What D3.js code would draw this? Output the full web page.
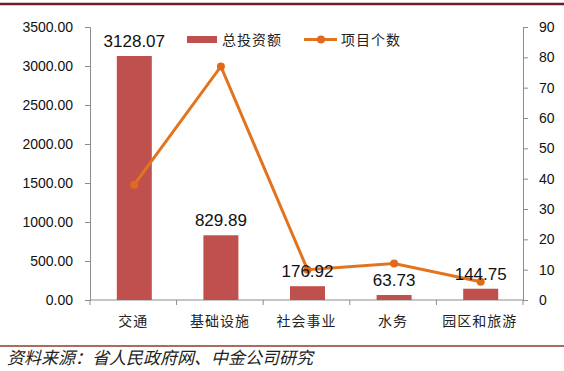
<!DOCTYPE html>
<html>
<head>
<meta charset="utf-8">
<script src="https://cdn.jsdelivr.net/npm/d3@7"></script>
<style>
body { margin: 0; background: #fff; }
text { font-family: "Liberation Sans", Arial, sans-serif; }
.cjk { font-family: "Noto Sans CJK SC", sans-serif; }
</style>
</head>
<body>
<div id="chart"></div>
<script>
// categories and series
var categories = ["交通", "基础设施", "社会事业", "水务", "园区和旅游"];
var investment = [3128.07, 829.89, 176.92, 63.73, 144.75];
var projectCount = [38, 77, 10, 12, 6];
var leftTicks = [0, 500, 1000, 1500, 2000, 2500, 3000, 3500];
var rightTicks = [0, 10, 20, 30, 40, 50, 60, 70, 80, 90];

var width = 564, height = 371;
var plotLeft = 90, plotRight = 523, plotTop = 27, plotBottom = 300;
var barColor = "#c0504d";
var lineColor = "#e3741f";
var axisColor = "#8c8c8c";

var svg = d3.select("#chart").append("svg")
  .attr("width", width)
  .attr("height", height);

// frame lines top and bottom
svg.append("line").attr("x1", 0).attr("x2", width).attr("y1", 4).attr("y2", 4)
  .attr("stroke", "#701c28").attr("stroke-width", 2.5);
svg.append("line").attr("x1", 0).attr("x2", width).attr("y1", 346).attr("y2", 346)
  .attr("stroke", "#8e3b2a").attr("stroke-width", 1.5);

var x = d3.scaleBand().domain(categories).range([plotLeft, plotRight]);
var yL = d3.scaleLinear().domain([0, 3500]).range([plotBottom, plotTop]);
var yR = d3.scaleLinear().domain([0, 90]).range([plotBottom, plotTop]);

// left axis
var gL = svg.append("g").attr("transform", "translate(" + plotLeft + ",0)")
  .call(d3.axisLeft(yL).tickValues(leftTicks).tickFormat(d3.format(".2f")).tickSizeOuter(0).tickSize(5).tickPadding(12));
// right axis
var gR = svg.append("g").attr("transform", "translate(" + plotRight + ",0)")
  .call(d3.axisRight(yR).tickValues(rightTicks).tickSizeOuter(0).tickSize(5).tickPadding(11));
[gL, gR].forEach(function(g) {
  g.select(".domain").attr("stroke", axisColor);
  g.selectAll(".tick line").attr("stroke", axisColor);
  g.selectAll(".tick text").attr("fill", "#111").style("font-size", "14px")
    .style("font-family", "'Liberation Sans', Arial, sans-serif");
});

// bottom axis, ticks on category boundaries
svg.append("line").attr("x1", plotLeft).attr("x2", plotRight).attr("y1", plotBottom).attr("y2", plotBottom)
  .attr("stroke", axisColor);
var bounds = categories.map(function(c) { return x(c); }).concat([plotRight]);
svg.selectAll(".btick").data(bounds).enter().append("line")
  .attr("x1", function(d) { return d; }).attr("x2", function(d) { return d; })
  .attr("y1", plotBottom).attr("y2", plotBottom + 5).attr("stroke", axisColor);
svg.selectAll(".xlab").data(categories).enter().append("text")
  .attr("class", "cjk")
  .attr("x", function(d) { return x(d) + x.bandwidth() / 2; })
  .attr("y", 326)
  .attr("text-anchor", "middle")
  .style("font-size", "14px")
  .style("letter-spacing", "1px")
  .attr("fill", "#222")
  .text(function(d) { return d; });

// bars
var barW = 35;
svg.selectAll(".bar").data(investment).enter().append("rect")
  .attr("x", function(d, i) { return x(categories[i]) + x.bandwidth() / 2 - barW / 2 + 1; })
  .attr("y", function(d) { return yL(d); })
  .attr("width", barW)
  .attr("height", function(d) { return plotBottom - yL(d); })
  .attr("fill", barColor);

// line series
var line = d3.line()
  .x(function(d, i) { return x(categories[i]) + x.bandwidth() / 2 + 1; })
  .y(function(d) { return yR(d); });
svg.append("path").datum(projectCount)
  .attr("d", line)
  .attr("fill", "none")
  .attr("stroke", lineColor)
  .attr("stroke-width", 3);
svg.selectAll(".dot").data(projectCount).enter().append("circle")
  .attr("cx", function(d, i) { return x(categories[i]) + x.bandwidth() / 2 + 1; })
  .attr("cy", function(d) { return yR(d); })
  .attr("r", 4)
  .attr("fill", "#e06a1c");

// value labels above bars
svg.selectAll(".val").data(investment).enter().append("text")
  .attr("x", function(d, i) { return x(categories[i]) + x.bandwidth() / 2 + 1; })
  .attr("y", function(d) { return yL(d) - 9; })
  .attr("text-anchor", "middle")
  .style("font-size", "17px")
  .attr("fill", "#111")
  .text(function(d) { return d3.format(".2f")(d); });

// legend
svg.append("rect").attr("x", 187).attr("y", 36).attr("width", 30).attr("height", 7).attr("fill", barColor);
svg.append("text").attr("class", "cjk").attr("x", 222).attr("y", 45)
  .style("font-size", "14px").style("letter-spacing", "1px").attr("fill", "#222").text("总投资额");
svg.append("line").attr("x1", 304).attr("x2", 337).attr("y1", 39.5).attr("y2", 39.5)
  .attr("stroke", lineColor).attr("stroke-width", 3);
svg.append("circle").attr("cx", 321).attr("cy", 39.5).attr("r", 4).attr("fill", "#e06a1c");
svg.append("text").attr("class", "cjk").attr("x", 341).attr("y", 45)
  .style("font-size", "14px").style("letter-spacing", "1px").attr("fill", "#222").text("项目个数");

// source note
svg.append("text").attr("class", "cjk").attr("x", 7).attr("y", 364)
  .style("font-size", "17px").style("font-style", "italic").attr("fill", "#222")
  .text("资料来源：省人民政府网、中金公司研究");
</script>
</body>
</html>
